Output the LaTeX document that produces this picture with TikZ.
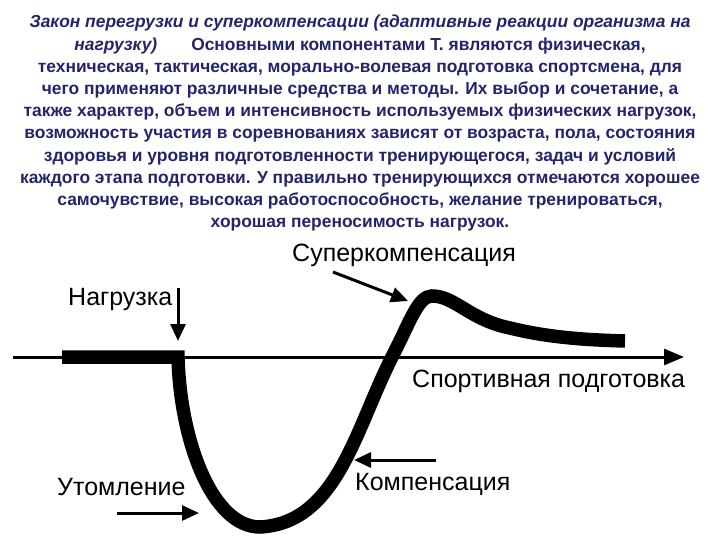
\documentclass[tikz,border=0pt]{standalone}
\usepackage{fontspec}
\setmainfont{Liberation Sans}
\usepackage{xcolor}
\usetikzlibrary{arrows.meta}
\definecolor{lawnavy}{RGB}{36,36,108}

\begin{document}
\begin{tikzpicture}[x=1bp, y=-1bp,
	lawtext/.style	= {font=\fontsize{17.4bp}{22.2bp}\selectfont\bfseries, text=lawnavy, align=center, inner sep=0pt},
	phase/.style	= {font=\fontsize{25bp}{30bp}\selectfont, inner sep=0pt, anchor=base west},
	pointer/.style	= {line width=3bp, -{Triangle[length=17bp, width=15bp]}},
	timeaxis/.style	= {line width=3bp, -{Triangle[length=20bp, width=16bp]}},
	response/.style	= {line width=13.5bp, line join=miter}]
\useasboundingbox (0,0) rectangle (720,540);

\node[lawtext, anchor=north]	(law)		at (360,15)	{\itshape Закон перегрузки и суперкомпенсации (адаптивные реакции организма на\\
	{\itshape нагрузку)}\hspace{34bp}Основными компонентами Т. являются физическая,\\
	техническая, тактическая, морально-волевая подготовка спортсмена, для\\
	чего применяют различные средства и методы. Их выбор и сочетание, а\\
	также характер, объем и интенсивность используемых физических нагрузок,\\
	возможность участия в соревнованиях зависят от возраста, пола, состояния\\
	здоровья и уровня подготовленности тренирующегося, задач и условий\\
	каждого этапа подготовки. У правильно тренирующихся отмечаются хорошее\\
	самочувствие, высокая работоспособность, желание тренироваться,\\
	хорошая переносимость нагрузок.};

\node[phase]	(super)		at (292,262)	{Суперкомпенсация};
\node[phase]	(load)		at (68,305)		{Нагрузка};
\node[phase]	(training)	at (412,387)	{Спортивная подготовка};
\node[phase]	(comp)		at (355,490)	{Компенсация};
\node[phase]	(fatigue)	at (57,495)		{Утомление};

\coordinate	(axisL)		at (13,357);
\coordinate	(axisR)		at (684,357);
\coordinate	(rest)		at (62,357);
\coordinate	(start)		at (178,357);
\coordinate	(low)		at (260,527);
\coordinate	(cross)		at (392,357);
\coordinate	(peak)		at (432,296);
\coordinate	(decay)		at (510,328);
\coordinate	(tail)		at (625,341);
\coordinate	(loadS)		at (178,288);
\coordinate	(loadE)		at (178,341);
\coordinate	(superS)	at (333,272);
\coordinate	(superE)	at (408,301);
\coordinate	(compS)		at (436,460);
\coordinate	(compE)		at (354,460);
\coordinate	(fatS)		at (117,513);
\coordinate	(fatE)		at (199,513);

\draw[timeaxis]	(axisL) -- (axisR);
\draw[response]	(rest) -- (start)
	.. controls (180,440) and (212,527) .. (low)
	.. controls (337,523) and (355,430) .. (cross)
	.. controls (410,322) and (418,296) .. (peak)
	.. controls (455,296) and (470,320) .. (decay)
	.. controls (550,338) and (590,340) .. (tail);

\path[pointer]	(loadS)		edge	(loadE)
				(superS)	edge	(superE)
				(compS)		edge	(compE)
				(fatS)		edge	(fatE);
\end{tikzpicture}
\end{document}
